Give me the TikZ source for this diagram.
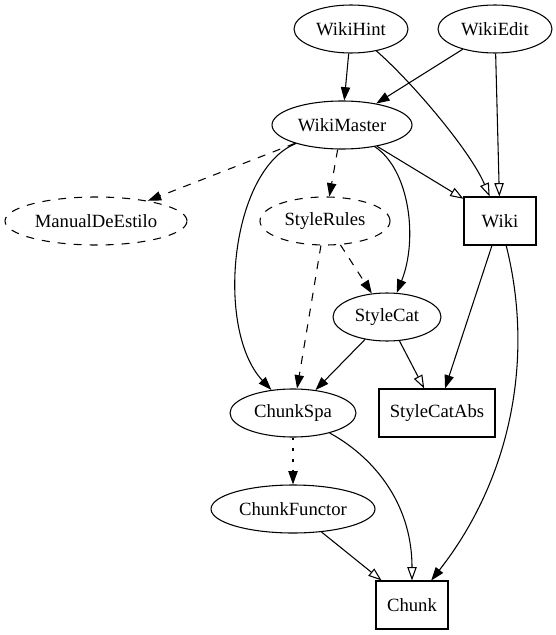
\documentclass[tikz,border=0pt]{standalone}
\usepackage{fontspec}
\setmainfont{Liberation Serif}
\usepackage{tikz}
\usetikzlibrary{arrows.meta,shapes.geometric}

\begin{document}
\begin{tikzpicture}[x=0.75pt,y=-0.75pt,line width=0.8pt,font=\fontsize{14}{16}\selectfont]
\tikzstyle{oval}=[ellipse,draw=black,minimum height=36pt,inner sep=0pt]
\tikzstyle{box}=[rectangle,draw=black,minimum height=36pt,minimum width=54pt,inner sep=0pt]
\tikzstyle{soft}=[dash pattern=on 6pt off 6pt]
\tikzstyle{dots}=[dash pattern=on 2pt off 6pt]
\tikzstyle{full}=[-{Triangle[length=10pt,width=7pt]}]
\tikzstyle{hollow}=[-{Triangle[open,length=10pt,width=7pt]}]
\useasboundingbox (0,0) rectangle (556,635);
\node[oval,minimum width=85.5pt] (hint) at (351,29) {WikiHint};
\node[oval,minimum width=85.5pt] (edit) at (495,29) {WikiEdit};
\node[oval,minimum width=105pt] (master) at (342,125) {WikiMaster};
\node[oval,soft,minimum width=136.5pt] (manual) at (96,221) {ManualDeEstilo};
\node[oval,soft,minimum width=97.5pt] (rules) at (325,221) {StyleRules};
\node[box] (wiki) at (500,221) {Wiki};
\node[oval,minimum width=81pt] (cat) at (387,317) {StyleCat};
\node[oval,minimum width=94.5pt] (spa) at (293,413) {ChunkSpa};
\node[box,minimum width=87pt] (catabs) at (437,413) {StyleCatAbs};
\node[oval,minimum width=123pt] (functor) at (293,509) {ChunkFunctor};
\node[box] (chunk) at (412,605) {Chunk};
\draw[full] (hint) -- (master);
\draw[hollow] (hint) .. controls (410,80) and (470,150) .. (wiki);
\draw[full] (edit) -- (master);
\draw[hollow] (edit) -- (wiki);
\draw[full,soft] (master) -- (manual);
\draw[full,soft] (master) -- (rules);
\draw[hollow] (master) -- (wiki);
\draw[full] (master) .. controls (410,170) and (418,240) .. (cat);
\draw[full] (master) .. controls (230,170) and (215,330) .. (spa);
\draw[full,soft] (rules) -- (cat);
\draw[full,soft] (rules) -- (spa);
\draw[full] (cat) -- (spa);
\draw[hollow] (cat) -- (catabs);
\draw[full] (wiki) -- (catabs);
\draw[full] (wiki) .. controls (535,360) and (510,480) .. (chunk);
\draw[full,dots] (spa) -- (functor);
\draw[hollow] (spa) .. controls (370,455) and (412,500) .. (chunk);
\draw[hollow] (functor) -- (chunk);
\end{tikzpicture}
\end{document}
